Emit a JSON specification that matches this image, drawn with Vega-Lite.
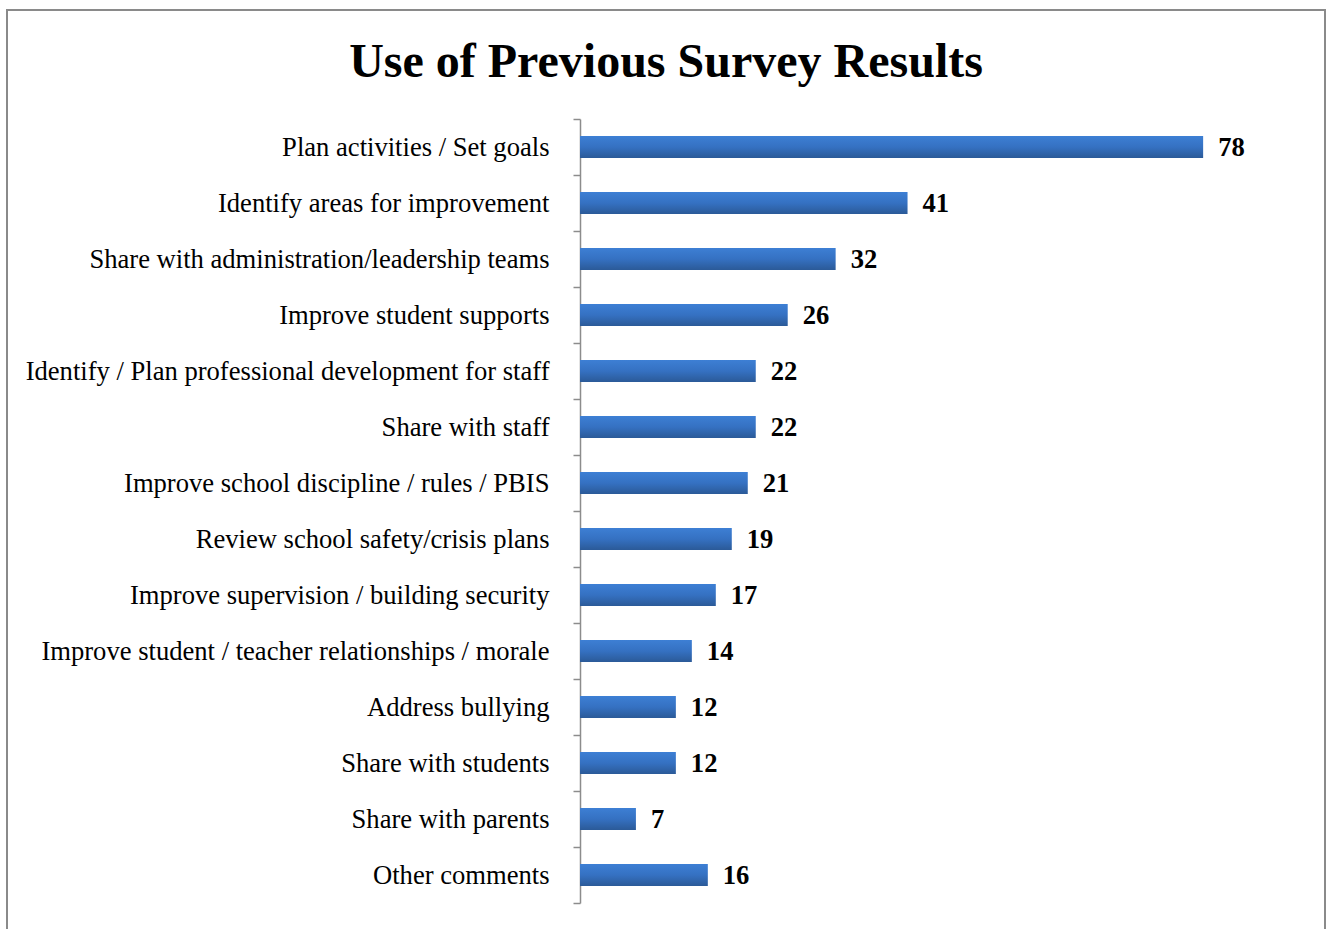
{
  "$schema": "https://vega.github.io/schema/vega-lite/v6.json",
  "autosize": "none",
  "width": 1318,
  "height": 930,
  "padding": {"left": 7, "top": 10, "right": 2, "bottom": 0},
  "background": "white",
  "title": {
    "text": "Use of Previous Survey Results",
    "font": "Liberation Serif",
    "fontSize": 48,
    "fontWeight": "bold",
    "color": "#000000",
    "anchor": "middle",
    "offset": -90
  },
  "config": {
    "view": {"stroke": "#8a8a8a", "strokeWidth": 2},
    "font": "Liberation Serif"
  },
  "data": {
    "values": [
      {"category": "Plan activities / Set goals", "value": 78},
      {"category": "Identify areas for improvement", "value": 41},
      {"category": "Share with administration/leadership teams", "value": 32},
      {"category": "Improve student supports", "value": 26},
      {"category": "Identify / Plan professional development for staff", "value": 22},
      {"category": "Share with staff", "value": 22},
      {"category": "Improve school discipline / rules / PBIS", "value": 21},
      {"category": "Review school safety/crisis plans", "value": 19},
      {"category": "Improve supervision / building security", "value": 17},
      {"category": "Improve student / teacher relationships / morale", "value": 14},
      {"category": "Address bullying", "value": 12},
      {"category": "Share with students", "value": 12},
      {"category": "Share with parents", "value": 7},
      {"category": "Other comments", "value": 16}
    ]
  },
  "encoding": {
    "y": {
      "field": "category",
      "type": "nominal",
      "sort": null,
      "scale": {"range": [109, 893], "paddingInner": 0, "paddingOuter": 0},
      "axis": {
        "title": null,
        "orient": "left",
        "offset": -573,
        "bandPosition": 1,
        "tickExtra": true,
        "domainColor": "#8c8c8c",
        "domainWidth": 1.5,
        "tickColor": "#8c8c8c",
        "tickWidth": 1.5,
        "tickSize": 7,
        "labelFont": "Liberation Serif",
        "labelFontSize": 26.6,
        "labelColor": "#000000",
        "labelPadding": 24,
        "labelLimit": 0,
        "labelOffset": 1,
        "grid": false
      }
    },
    "x": {
      "field": "value",
      "type": "quantitative",
      "scale": {"domain": [0, 90], "range": [573, 1292], "nice": false, "zero": true},
      "axis": null
    }
  },
  "layer": [
    {
      "mark": {
        "type": "bar",
        "height": {"band": 0.39},
        "color": {
          "gradient": "linear",
          "x1": 0, "y1": 0, "x2": 0, "y2": 1,
          "stops": [
            {"offset": 0, "color": "#3d7fd4"},
            {"offset": 0.5, "color": "#3571c2"},
            {"offset": 1, "color": "#2b5a98"}
          ]
        }
      }
    },
    {
      "mark": {
        "type": "text",
        "align": "left",
        "baseline": "middle",
        "dx": 15,
        "dy": 1,
        "font": "Liberation Serif",
        "fontSize": 26.6,
        "fontWeight": "bold",
        "color": "#000000"
      },
      "encoding": {"text": {"field": "value", "type": "quantitative"}}
    }
  ]
}
